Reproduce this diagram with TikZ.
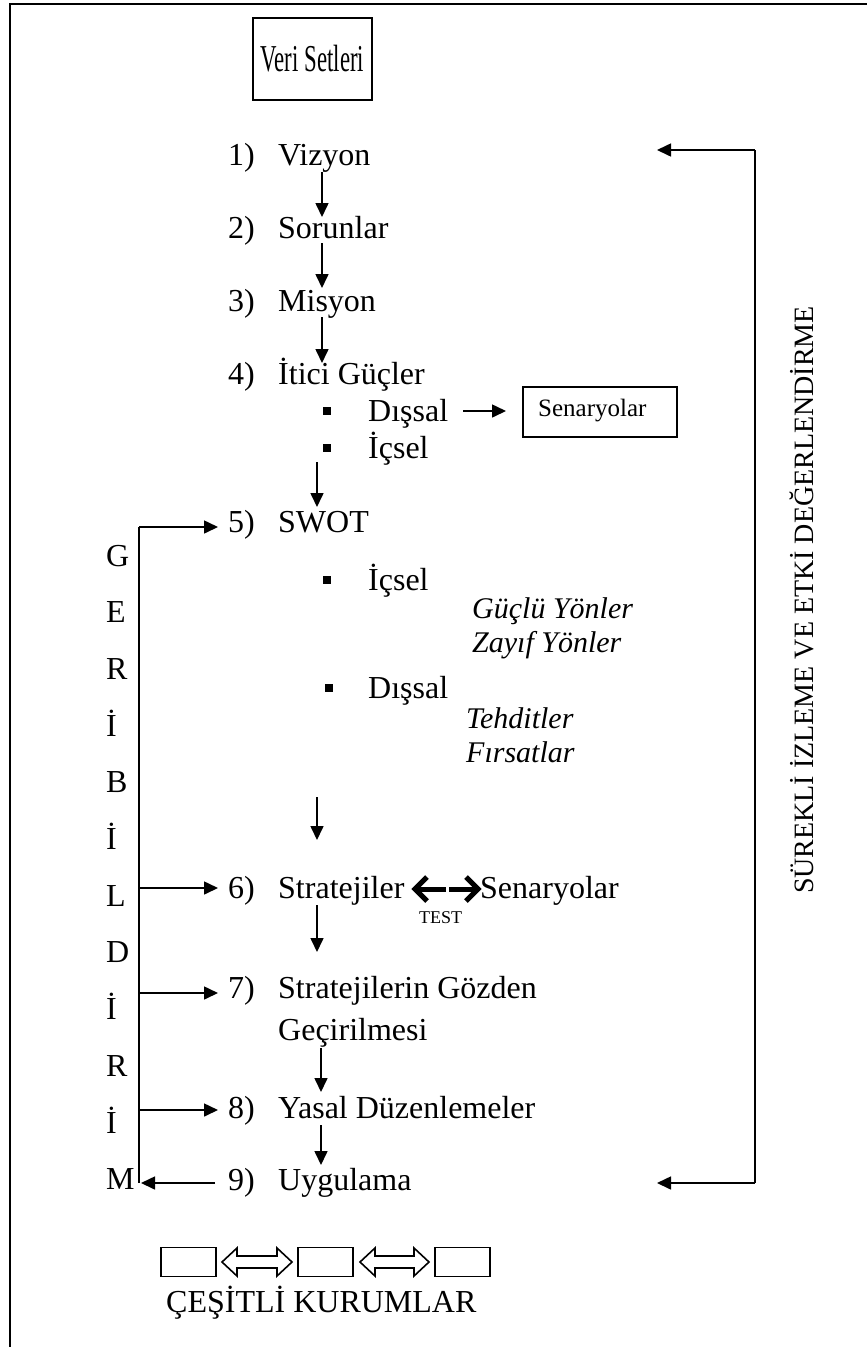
\documentclass[tikz,border=0pt]{standalone}
\usepackage{fontspec}
\setmainfont{Liberation Serif}
\usetikzlibrary{arrows.meta}
\begin{document}
\begin{tikzpicture}[x=1pt,y=-1pt,
  txt/.style={inner sep=0pt, anchor=base west, font=\fontsize{32}{38}\selectfont},
  itxt/.style={inner sep=0pt, anchor=base west, font=\fontsize{30}{36}\selectfont\itshape},
  flow/.style={line width=1.6pt, -{Triangle[length=14pt,width=13pt]}},
  plainline/.style={line width=1.6pt},
  frameline/.style={line width=2.4pt},
  bul/.style={fill=black, minimum size=8pt, inner sep=0pt},
  boxed/.style={draw, line width=1.6pt, inner sep=0pt},
  testarrow/.style={line width=5pt, line join=miter},
  hollow/.style={draw, line width=1.6pt, line join=miter},
]
\useasboundingbox (0,0) rectangle (867,1347);
% page frame: top and left edges
\draw[frameline] (10,1347) -- (10,4) -- (867,4);

% data sets box
\node[boxed, minimum width=119pt, minimum height=82pt] (veri) at (312.5,59)
  {\fontsize{38}{38}\selectfont\scalebox{0.6}[1]{Veri Setleri}};

% numbered steps
\node[txt] (n1) at (228,165) {1)}; \node[txt] (s1) at (278,165) {Vizyon};
\node[txt] (n2) at (228,238) {2)}; \node[txt] (s2) at (278,238) {Sorunlar};
\node[txt] (n3) at (228,311) {3)}; \node[txt] (s3) at (278,311) {Misyon};
\node[txt] (n4) at (228,384) {4)}; \node[txt] (s4) at (278,384) {İtici Güçler};
\node[bul] (b41) at (327,411) {}; \node[txt] (s41) at (368,421) {Dışsal};
\node[bul] (b42) at (327,448) {}; \node[txt] (s42) at (368,458) {İçsel};

% scenarios box
\node[boxed, minimum width=154pt, minimum height=50pt] (senbox) at (600,412) {};
\node[inner sep=0pt, anchor=base west, font=\fontsize{25}{25}\selectfont] (sentxt) at (538,416) {Senaryolar};

\node[txt] (n5) at (228,532) {5)}; \node[txt] (s5) at (278,532) {SWOT};
\node[bul] (b51) at (327,580) {}; \node[txt] (s51) at (368,590) {İçsel};
\node[itxt] (g1) at (472,618) {Güçlü Yönler};
\node[itxt] (g2) at (472,652) {Zayıf Yönler};
\node[bul] (b52) at (329,688) {}; \node[txt] (s52) at (368,698) {Dışsal};
\node[itxt] (g3) at (466,728) {Tehditler};
\node[itxt] (g4) at (466,762) {Fırsatlar};

\node[txt] (n6) at (228,898) {6)}; \node[txt] (s6) at (278,898) {Stratejiler};
\node[txt] (sen6) at (480,898) {Senaryolar};
\node[inner sep=0pt, anchor=base west, font=\fontsize{18}{18}\selectfont] (test) at (419,923) {TEST};

\node[txt] (n7) at (228,998) {7)}; \node[txt] (s7) at (278,998) {Stratejilerin Gözden};
\node[txt] (s7b) at (278,1040) {Geçirilmesi};
\node[txt] (n8) at (228,1118) {8)}; \node[txt] (s8) at (278,1118) {Yasal Düzenlemeler};
\node[txt] (n9) at (228,1190) {9)}; \node[txt] (s9) at (278,1190) {Uygulama};

% feedback letters
\foreach \ch [count=\i from 0] in {G,E,R,İ,B,İ,L,D,İ,R,İ,M}
  \node[txt] (fb\i) at (106,566+56.7*\i) {\ch};

% monitoring label
\node[rotate=90, inner sep=0pt, font=\fontsize{28}{28}\selectfont] (izleme) at (802,600)
  {SÜREKLİ İZLEME VE ETKİ DEĞERLENDİRME};

% downward flow
\coordinate (a1s) at (322,172); \coordinate (a1e) at (322,217);
\coordinate (a2s) at (322,243); \coordinate (a2e) at (322,288);
\coordinate (a3s) at (322,317); \coordinate (a3e) at (322,363);
\coordinate (a4s) at (317,462); \coordinate (a4e) at (317,507);
\coordinate (a5s) at (317,797); \coordinate (a5e) at (317,840);
\coordinate (a6s) at (317,905); \coordinate (a6e) at (317,952);
\coordinate (a7s) at (321,1048); \coordinate (a7e) at (321,1092);
\coordinate (a8s) at (321,1125); \coordinate (a8e) at (321,1165);
\foreach \k in {1,...,8} \draw[flow] (a\k s) -- (a\k e);

% external drivers to scenarios
\coordinate (dxs) at (463,411); \coordinate (dxe) at (506,411);
\draw[flow] (dxs) -- (dxe);

% strategy / scenario test arrows
\coordinate (tla) at (446,889); \coordinate (tlb) at (415,889);
\coordinate (tra) at (449,889); \coordinate (trb) at (478,889);
\draw[testarrow] (tla) -- (tlb);
\draw[testarrow] ([shift={(12,-12)}]tlb) -- (tlb) -- ([shift={(12,12)}]tlb);
\draw[testarrow] (tra) -- (trb);
\draw[testarrow] ([shift={(-12,-12)}]trb) -- (trb) -- ([shift={(-12,12)}]trb);

% feedback loop on the left
\coordinate (ltop) at (139,527); \coordinate (lbot) at (139,1183);
\coordinate (l5) at (218,527);
\coordinate (l6a) at (139,888); \coordinate (l6) at (218,888);
\coordinate (l7a) at (139,993); \coordinate (l7) at (218,993);
\coordinate (l8a) at (139,1110); \coordinate (l8) at (218,1110);
\coordinate (l9) at (215,1183); \coordinate (l9e) at (141,1183);
\draw[plainline] (ltop) -- (lbot);
\draw[flow] (ltop) -- (l5);
\draw[flow] (l6a) -- (l6);
\draw[flow] (l7a) -- (l7);
\draw[flow] (l8a) -- (l8);
\draw[flow] (l9) -- (l9e);

% monitoring loop on the right
\coordinate (rtop) at (755,150); \coordinate (rbot) at (755,1183);
\coordinate (rtoptip) at (657,150); \coordinate (rbottip) at (657,1183);
\draw[plainline] (rtop) -- (rbot);
\draw[flow] (rtop) -- (rtoptip);
\draw[flow] (rbot) -- (rbottip);

% institutions
\node[boxed, minimum width=55pt, minimum height=29pt] (k1) at (188.5,1262) {};
\node[boxed, minimum width=55pt, minimum height=29pt] (k2) at (325.5,1262) {};
\node[boxed, minimum width=55pt, minimum height=29pt] (k3) at (462.5,1262) {};
\draw[hollow] (222,1262) -- (237,1248) -- (237,1256) -- (277,1256) -- (277,1248) -- (292,1262)
  -- (277,1276) -- (277,1268) -- (237,1268) -- (237,1276) -- cycle;
\draw[hollow] (360,1262) -- (375,1248) -- (375,1256) -- (414,1256) -- (414,1248) -- (429,1262)
  -- (414,1276) -- (414,1268) -- (375,1268) -- (375,1276) -- cycle;
\node[txt] (kurum) at (166,1312) {ÇEŞİTLİ KURUMLAR};
\end{tikzpicture}
\end{document}
